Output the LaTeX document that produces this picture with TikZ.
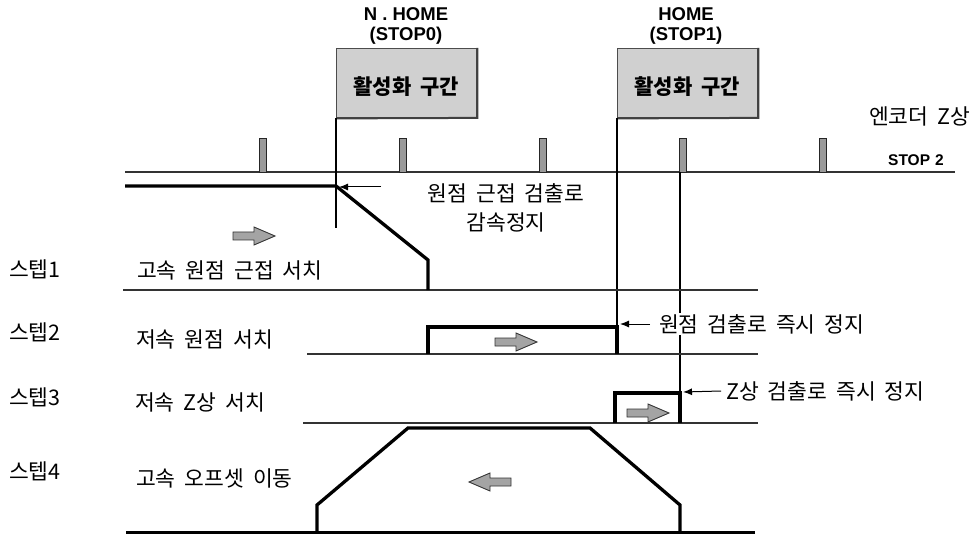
\documentclass[tikz,border=0pt]{standalone}
\usepackage{fontspec}
\setmainfont{Noto Sans CJK KR}
\newfontfamily\latb{Liberation Sans}
\usetikzlibrary{arrows.meta}
\definecolor{boxgray}{HTML}{D0D0D0}
\definecolor{arrgray}{HTML}{A4A4A4}
\definecolor{pulsegray}{HTML}{9A9A9A}
\newcommand\ks{\hspace{9pt}}
\begin{document}
\begin{tikzpicture}[x=1pt,y=-1pt,
  kor/.style={font=\fontsize{21.5}{24}\selectfont, inner sep=0pt},
  lat/.style={font=\latb\bfseries\fontsize{18.5}{20}\selectfont, inner sep=0pt},
  zonebox/.style={fill=boxgray, draw=black!70, line width=0.9pt, minimum width=140pt, minimum height=69pt, inner sep=0pt},
  zonetext/.style={font=\bfseries\fontsize{21}{24}\selectfont, inner sep=0pt},
  sig/.style={line width=3.3pt, line join=miter},
  baseln/.style={line width=1.5pt, draw=black!80},
  pulse/.style={fill=pulsegray, draw=black!85, line width=0.9pt},
  annot/.style={-{Latex[length=9pt,width=7pt]}, line width=1pt},
  blockarr/.pic={\draw[fill=arrgray, draw=black!80, line width=0.9pt] (-21,-4) -- (0,-4) -- (0,-9) -- (21,0) -- (0,9) -- (0,4) -- (-21,4) -- cycle;}
]
\useasboundingbox (0,0) rectangle (973,534);

% zone boxes
\node[zonebox, anchor=north west] (b1) at (336,48) {};
\node[zonebox, anchor=north west] (b2) at (617,48) {};
\draw[line width=2pt, black!75] ([xshift=0.5pt]b1.north east) -- ([xshift=0.5pt]b1.south east) -- ([yshift=-0.5pt]b1.south west);
\draw[line width=2pt, black!75] ([xshift=0.5pt]b2.north east) -- ([xshift=0.5pt]b2.south east) -- ([yshift=-0.5pt]b2.south west);
\node[zonetext] (z1) at ([yshift=-4pt]b1.center) {활성화\ks 구간};
\node[zonetext] (z2) at ([yshift=-4pt]b2.center) {활성화\ks 구간};

% top labels
\node[lat] (nhome) at (406,14) {N . HOME};
\node[lat] (stop0) at (406,36) {(STOP0)};
\node[lat] (home) at (686,14) {HOME};
\node[lat] (stop1) at (686,36) {(STOP1)};

% encoder line and pulses
\node[kor, anchor=west] (enc) at (869,116) {엔코더\ks Z상};
\node[lat, font=\latb\bfseries\fontsize{15.5}{17}\selectfont, anchor=west] (stop2) at (888,160) {STOP\hspace{5pt}2};
\coordinate (encL) at (125,172);
\coordinate (encR) at (955,172);
\draw[baseln, line width=1.3pt] (encL) -- (encR);
\foreach \x in {263,403,543,683,823} \draw[pulse] (\x-3.5,138) rectangle (\x+3.5,172);

% vertical marker lines
\coordinate (m1) at (336,228);
\draw[line width=2.2pt] (b1.south west) -- (m1);
\coordinate (m2) at (617,327);
\draw[line width=1.1pt] (b2.south west) -- (m2);
\coordinate (m3t) at (680,172);
\coordinate (m3) at (680,393);
\draw[line width=1.1pt] (m3t) -- (m3);

% step labels
\node[kor, anchor=west] (s1) at (9,269) {스텝1};
\node[kor, anchor=west] (s2) at (9,332) {스텝2};
\node[kor, anchor=west] (s3) at (9,397) {스텝3};
\node[kor, anchor=west] (s4) at (9,471) {스텝4};

\node[kor, anchor=west] (d1) at (137,270) {고속\ks 원점\ks 근접\ks 서치};
\node[kor, anchor=west] (d2) at (136,339) {저속\ks 원점\ks 서치};
\node[kor, anchor=west] (d3) at (135,402) {저속\ks Z상\ks 서치};
\node[kor, anchor=west] (d4) at (136,478) {고속\ks 오프셋\ks 이동};

% baselines
\draw[baseln] (123,290) -- (758,290);
\draw[baseln] (307,354) -- (758,354);
\draw[baseln] (303,423) -- (758,423);
\draw[line width=3pt] (126,532) -- (755,532);

% step 1 signal
\draw[sig] (125,186) -- (336,186) -- (428,260) -- (428,290);
\pic at (254,236) {blockarr};
\coordinate (a1s) at (381,187);
\coordinate (a1e) at (339,187);
\draw[annot] (a1s) -- (a1e);
\node[kor] (t1a) at (506,193) {원점\ks 근접\ks 검출로};
\node[kor] (t1b) at (506,222) {감속정지};

% step 2 signal
\draw[sig] (428,354) -- (428,327) -- (617,327) -- (617,354);
\pic at (516,342) {blockarr};
\node[kor, anchor=west, fill=white, inner sep=1pt] (t2) at (658,324) {원점\ks 검출로\ks 즉시\ks 정지};
\coordinate (a2e) at (620,324);
\draw[annot] ([xshift=-8pt]t2.west) -- (a2e);

% step 3 signal
\draw[sig] (615,423) -- (615,393) -- (680,393) -- (680,423);
\pic at (648,413) {blockarr};
\node[kor, anchor=west] (t3) at (726,391) {Z상\ks 검출로\ks 즉시\ks 정지};
\coordinate (a3e) at (683,392);
\draw[annot] ([xshift=-5pt]t3.west) -- (a3e);

% step 4 signal
\draw[sig] (317,532) -- (317,505) -- (408,428) -- (590,428) -- (680,505) -- (680,532);
\pic[xscale=-1] at (490,482) {blockarr};

\end{tikzpicture}
\end{document}
